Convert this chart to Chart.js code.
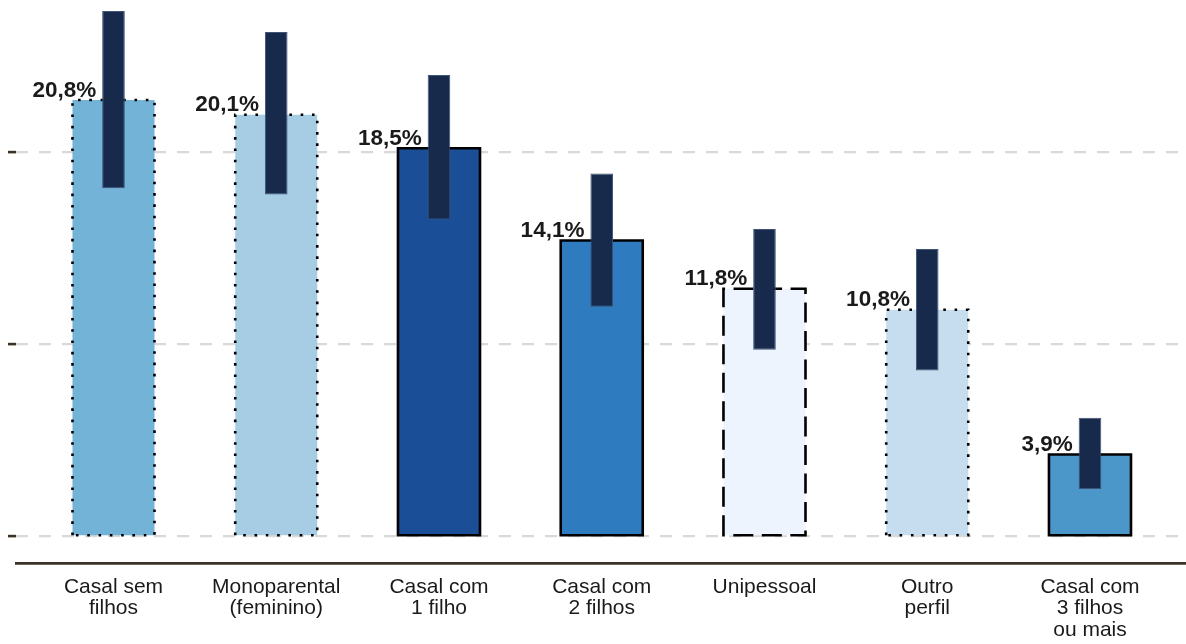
<!DOCTYPE html>
<html>
<head>
<meta charset="utf-8">
<script src="https://cdn.jsdelivr.net/npm/chart.js@4"></script>
<style>
  html, body { margin: 0; padding: 0; background: #ffffff; }
  canvas { display: block; }
</style>
</head>
<body>
<canvas id="c" width="1186" height="644"></canvas>
<script>
// ---- data ----
const categories = [
  ['Casal sem', 'filhos'],
  ['Monoparental', '(feminino)'],
  ['Casal com', '1 filho'],
  ['Casal com', '2 filhos'],
  ['Unipessoal'],
  ['Outro', 'perfil'],
  ['Casal com', '3 filhos', 'ou mais']
];
const shares = [20.8, 20.1, 18.5, 14.1, 11.8, 10.8, 3.9];
const rangeLow = [16.6, 16.3, 15.1, 10.95, 8.9, 7.9, 2.25];
const rangeHigh = [25.05, 24.05, 22.0, 17.3, 14.65, 13.7, 5.65];
const yTicks = [0, 9.15, 18.3];

// ---- styles ----
const barColors = ['#74b3d8', '#a6cde4', '#1a4f98', '#2f7bbf', '#eef4fd', '#c6dcef', '#4c97c9'];
const borderKinds = ['dot', 'dot', 'solid', 'solid', 'dash', 'dot', 'solid'];
const navyColor = '#172a4b';
const FONT = '"Liberation Sans", Arial, Helvetica, sans-serif';

const borderPlugin = {
  id: 'styledBorders',
  afterDatasetDraw(chart, args) {
    if (args.index !== 0) return;
    const ctx = chart.ctx;
    const meta = args.meta;
    meta.data.forEach((el, i) => {
      const p = el.getProps(['x', 'y', 'base', 'width'], true);
      const kind = borderKinds[i];
      ctx.save();
      ctx.strokeStyle = '#000000';
      ctx.lineWidth = 2.6;
      if (kind === 'dot') { ctx.setLineDash([2.6, 8.7]); ctx.lineCap = 'butt'; }
      else if (kind === 'dash') { ctx.setLineDash([20, 8.5]); }
      else { ctx.setLineDash([]); ctx.lineJoin = 'miter'; }
      const left = p.x - p.width / 2, right = p.x + p.width / 2;
      ctx.beginPath();
      ctx.moveTo(left, p.base);
      ctx.lineTo(left, p.y);
      ctx.lineTo(right, p.y);
      ctx.lineTo(right, p.base);
      ctx.closePath();
      ctx.stroke();
      ctx.restore();
    });
  }
};

const labelPlugin = {
  id: 'valueLabels',
  afterDatasetsDraw(chart) {
    const ctx = chart.ctx;
    const main = chart.getDatasetMeta(0).data;
    const navy = chart.getDatasetMeta(1).data;
    ctx.save();
    ctx.font = 'bold 22.5px ' + FONT;
    ctx.fillStyle = '#1a1a1a';
    ctx.textAlign = 'right';
    ctx.textBaseline = 'alphabetic';
    main.forEach((el, i) => {
      const p = el.getProps(['x', 'y'], true);
      const n = navy[i].getProps(['x', 'width'], true);
      const txt = shares[i].toFixed(1).replace('.', ',') + '%';
      ctx.fillText(txt, n.x - n.width / 2 - 6, p.y - 3.5);
    });
    ctx.restore();
  }
};

new Chart(document.getElementById('c'), {
  type: 'bar',
  data: {
    datasets: [
      {
        label: 'share',
        data: shares.map((v, i) => ({ x: i, y: v })),
        backgroundColor: barColors,
        borderWidth: 0,
        grouped: false,
        categoryPercentage: 1,
        barPercentage: 0.504,
        order: 2
      },
      {
        label: 'range',
        data: rangeLow.map((lo, i) => ({ x: i, y: [lo, rangeHigh[i]] })),
        backgroundColor: navyColor,
        borderColor: '#3e5476',
        borderWidth: 1,
        borderSkipped: false,
        grouped: false,
        categoryPercentage: 1,
        barPercentage: 0.139,
        order: 1
      }
    ]
  },
  options: {
    responsive: false,
    devicePixelRatio: 1,
    animation: false,
    layout: { padding: { left: 8, right: 0, top: 0, bottom: 0 } },
    plugins: { legend: { display: false }, tooltip: { enabled: false } },
    scales: {
      x: {
        type: 'linear',
        offset: false,
        min: -0.599,
        max: 6.59,
        afterBuildTicks: (scale) => { scale.ticks = categories.map((c, i) => ({ value: i })); },
        afterFit: (scale) => { scale.height = 81; },
        grid: { display: false, drawTicks: false, offset: false },
        border: { display: true, color: '#3b3127', width: 2.7 },
        ticks: {
          autoSkip: false,
          maxRotation: 0,
          padding: 13,
          color: '#1a1a1a',
          font: { family: FONT, size: 21, lineHeight: 1.03 },
          callback: (v) => categories[Math.round(v)]
        }
      },
      y: {
        min: -1.273,
        max: 25.57,
        afterBuildTicks: (scale) => { scale.ticks = yTicks.map(v => ({ value: v })); },
        afterFit: (scale) => { scale.width = 8; },
        ticks: { display: false },
        grid: {
          color: '#d9d9d9',
          lineWidth: 2.2,
          drawTicks: true,
          tickLength: 8,
          tickColor: '#3b3127',
          tickWidth: 2.6,
          tickBorderDash: []
        },
        border: { display: false, dash: [12, 11] }
      }
    }
  },
  plugins: [borderPlugin, labelPlugin]
});
</script>
</body>
</html>
